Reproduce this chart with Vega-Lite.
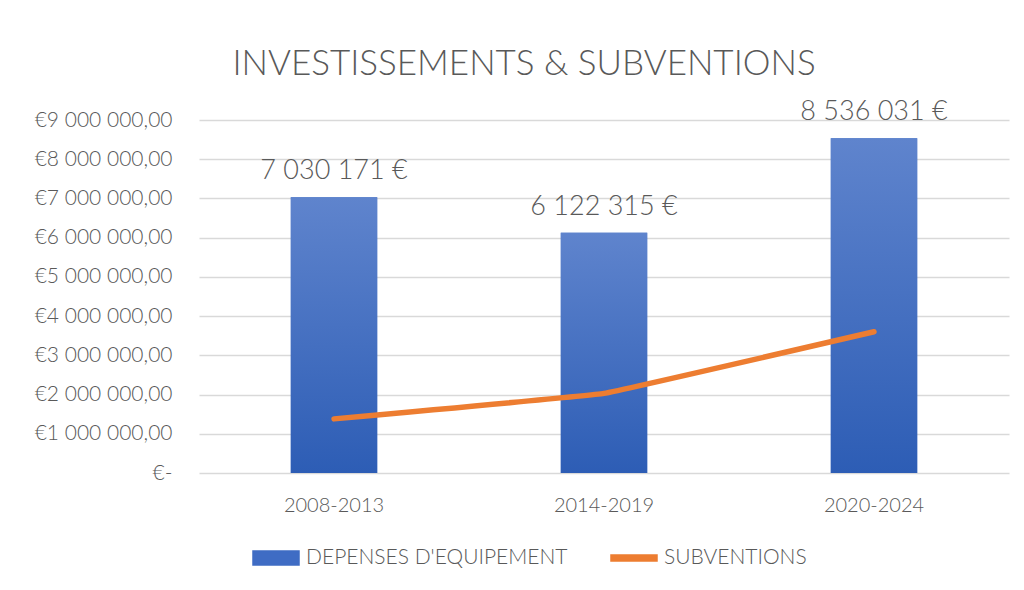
{
  "$schema": "https://vega.github.io/schema/vega-lite/v6.json",
  "autosize": {"type": "none"},
  "width": 810,
  "height": 353,
  "padding": {"left": 199, "top": 120, "right": 15, "bottom": 117},
  "background": "white",
  "config": {
    "font": "Lato",
    "view": {"stroke": null},
    "axisY": {
      "title": null,
      "values": [0, 1000000, 2000000, 3000000, 4000000, 5000000, 6000000, 7000000, 8000000, 9000000],
      "labelExpr": "datum.value === 0 ? '€-' : '€' + (datum.value / 1000000) + ' 000 000,00'",
      "labelOverlap": false,
      "labelFontSize": 21,
      "labelFontWeight": 300,
      "labelColor": "#595959",
      "labelPadding": 27,
      "ticks": false,
      "domain": false,
      "gridColor": "#d9d9d9",
      "gridWidth": 1.5
    },
    "locale": {"number": {"decimal": ",", "thousands": " ", "grouping": [3], "currency": ["", " €"]}}
  },
  "title": {
    "text": "INVESTISSEMENTS & SUBVENTIONS",
    "fontSize": 35,
    "fontWeight": 300,
    "font": "Lato",
    "color": "#595959",
    "anchor": "middle",
    "frame": "group",
    "dx": -80,
    "offset": 16
  },
  "data": {
    "values": [
      {"periode": "2008-2013", "depenses": 7030171, "subventions": 1380000},
      {"periode": "2014-2019", "depenses": 6122315, "subventions": 2030000},
      {"periode": "2020-2024", "depenses": 8536031, "subventions": 3600000}
    ]
  },
  "encoding": {
    "x": {
      "field": "periode",
      "type": "nominal",
      "sort": null,
      "scale": {"paddingInner": 0.68, "paddingOuter": 0.34},
      "axis": {
        "title": null,
        "labelAngle": 0,
        "labelFontSize": 20,
        "labelFontWeight": 300,
        "labelColor": "#595959",
        "labelPadding": 22,
        "ticks": false,
        "domain": false
      }
    }
  },
  "layer": [
    {
      "mark": {"type": "bar"},
      "encoding": {
        "y": {
          "field": "depenses",
          "type": "quantitative",
          "scale": {"domain": [0, 9000000], "nice": false},
          "axis": {"values": [0, 1000000, 2000000, 3000000, 4000000, 5000000, 6000000, 7000000, 8000000, 9000000]}
        },
        "color": {
          "datum": "DEPENSES D'EQUIPEMENT",
          "type": "nominal",
          "scale": {"domain": ["DEPENSES D'EQUIPEMENT", "SUBVENTIONS"], "range": ["#3F6CC4", "#ED7D31"]},
          "legend": {
            "title": null,
            "orient": "none",
            "direction": "horizontal",
            "legendX": 53,
            "legendY": 414,
            "labelFontSize": 21,
            "labelColor": "#595959",
            "labelFont": "Lato",
            "labelFontWeight": 300,
            "labelLimit": 400,
            "symbolSize": 2116,
            "labelOffset": 6,
            "columnPadding": 40,
            "encode": {
              "symbols": {
                "update": {
                  "shape": {"signal": "datum.value === 'SUBVENTIONS' ? 'M-1,-0.13L1,-0.13L1,0.13L-1,0.13Z' : 'M-1,-0.3L1,-0.3L1,0.3L-1,0.3Z'"},
                  "fill": {"signal": "datum.value === 'SUBVENTIONS' ? '#ED7D31' : '#3F6CC4'"},
                  "stroke": {"value": "transparent"},
                  "opacity": {"value": 1}
                }
              }
            }
          }
        }
      }
    },
    {
      "mark": {
        "type": "bar",
        "color": {
          "gradient": "linear",
          "x1": 0, "y1": 0, "x2": 0, "y2": 1,
          "stops": [
            {"offset": 0, "color": "#5F84CD"},
            {"offset": 1, "color": "#2D5DB5"}
          ]
        }
      },
      "encoding": {
        "y": {"field": "depenses", "type": "quantitative", "axis": {"values": [0, 1000000, 2000000, 3000000, 4000000, 5000000, 6000000, 7000000, 8000000, 9000000]}}
      }
    },
    {
      "mark": {"type": "text", "baseline": "bottom", "dy": -12, "fontSize": 27, "fontWeight": 300, "color": "#595959"},
      "encoding": {
        "y": {"field": "depenses", "type": "quantitative", "axis": {"values": [0, 1000000, 2000000, 3000000, 4000000, 5000000, 6000000, 7000000, 8000000, 9000000]}},
        "text": {"field": "depenses", "type": "quantitative", "format": "$,.0f"}
      }
    },
    {
      "mark": {"type": "line", "strokeWidth": 5.5, "strokeCap": "round", "interpolate": "cardinal", "tension": 0.85},
      "encoding": {
        "y": {"field": "subventions", "type": "quantitative", "axis": {"values": [0, 1000000, 2000000, 3000000, 4000000, 5000000, 6000000, 7000000, 8000000, 9000000]}},
        "color": {"datum": "SUBVENTIONS", "type": "nominal"}
      }
    }
  ]
}
